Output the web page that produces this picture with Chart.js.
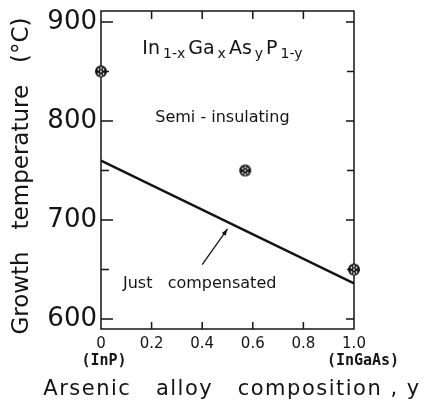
<!DOCTYPE html>
<html>
<head>
<meta charset="utf-8">
<script src="https://cdn.jsdelivr.net/npm/chart.js@4.4.1/dist/chart.umd.min.js"></script>
<style>
  html, body { margin: 0; padding: 0; background: #fff; }
  #wrap { width: 425px; height: 409px; }
</style>
</head>
<body>
<div id="wrap"><canvas id="chart"></canvas></div>
<script>
// Axis ticks
const xTicks = [0, 0.2, 0.4, 0.6, 0.8, 1.0];
const xTickLabels = ['0', '0.2', '0.4', '0.6', '0.8', '1.0'];
const xSubLabels = ['(InP)', '', '', '', '', '(InGaAs)'];
const yTicks = [600, 700, 800, 900];
const yTickLabels = ['600', '700', '800', '900'];
const yMinorTicks = [650, 750, 850];

// "Just compensated" boundary line
const boundaryX = [0, 1.0];
const boundaryY = [760, 636];

// Semi-insulating samples
const sampleX = [0, 0.57, 1.0];
const sampleY = [850, 750, 650];

// Arrow pointing at the boundary
const arrowFrom = [0.40, 655];
const arrowTo = [0.50, 691];

// Text placed in data coordinates
const notes = [
    { text: 'Semi - insulating', x: 0.48, y: 803 },
    { text: 'Just   compensated', x: 0.39, y: 636 }
];
const formulaParts = [['In', 0], ['1-x', 1], ['Ga', 0], ['x', 1], ['As', 0], ['y', 1], ['P', 0], ['1-y', 1]];
const formulaAt = { x: 0.48, y: 874 };

const INK = '#141414';
const FONT = "'DejaVu Sans', sans-serif";

// Marker: dark disc with light speckles
function makeMarker() {
    const c = document.createElement('canvas');
    c.width = 14;
    c.height = 14;
    const g = c.getContext('2d');
    g.fillStyle = INK;
    g.beginPath();
    g.arc(7, 7, 6, 0, Math.PI * 2);
    g.fill();
    g.fillStyle = '#fff';
    [[7, 7], [4.5, 5], [9.5, 5], [4.5, 9.5], [9.5, 9.5], [7, 3.5], [7, 11]].forEach(([a, b]) => {
        g.beginPath();
        g.arc(a, b, 0.9, 0, Math.PI * 2);
        g.fill();
    });
    return c;
}

// Axis titles get letter spacing and a wider span than the plot area
const titleLook = {
    x: { spacing: '1.5px', from: 40, to: 424 },
    y: { spacing: '0px', from: 12, to: 340 }
};

function styleTitle(scale, look) {
    if (scale._styled) return;
    const draw = scale.drawTitle;
    const horizontal = scale.isHorizontal();
    scale.drawTitle = function () {
        const ctx = this.ctx;
        const keep = [this.left, this.right, this.top, this.bottom];
        if (horizontal) {
            this.left = look.from;
            this.right = look.to;
        } else {
            this.top = look.from;
            this.bottom = look.to;
        }
        ctx.save();
        ctx.letterSpacing = look.spacing;
        draw.call(this);
        ctx.restore();
        [this.left, this.right, this.top, this.bottom] = keep;
    };
    scale._styled = true;
}

// Frame with inward ticks on all four sides
const frameTicks = {
    id: 'frameTicks',
    beforeDraw(chart) {
        Object.keys(titleLook).forEach(id => styleTitle(chart.scales[id], titleLook[id]));
    },
    beforeDatasetsDraw(chart) {
        const { ctx, chartArea: a, scales: { x, y } } = chart;
        ctx.save();
        ctx.strokeStyle = INK;
        ctx.lineWidth = 1.5;
        ctx.strokeRect(a.left, a.top, a.right - a.left, a.bottom - a.top);
        ctx.beginPath();
        xTicks.slice(1, -1).forEach(v => {
            const px = x.getPixelForValue(v);
            ctx.moveTo(px, a.bottom);
            ctx.lineTo(px, a.bottom - 7);
            ctx.moveTo(px, a.top);
            ctx.lineTo(px, a.top + 8);
        });
        yTicks.forEach(v => {
            const py = y.getPixelForValue(v);
            ctx.moveTo(a.left, py);
            ctx.lineTo(a.left + 12, py);
            ctx.moveTo(a.right, py);
            ctx.lineTo(a.right - 8, py);
        });
        yMinorTicks.forEach(v => {
            const py = y.getPixelForValue(v);
            ctx.moveTo(a.left, py);
            ctx.lineTo(a.left + 8, py);
            ctx.moveTo(a.right, py);
            ctx.lineTo(a.right - 7, py);
        });
        ctx.stroke();
        ctx.restore();
    },
    afterDraw(chart) {
        const { ctx, scales: { x, y } } = chart;
        ctx.save();
        ctx.fillStyle = INK;
        ctx.strokeStyle = INK;

        // arrow
        const x0 = x.getPixelForValue(arrowFrom[0]), y0 = y.getPixelForValue(arrowFrom[1]);
        const x1 = x.getPixelForValue(arrowTo[0]), y1 = y.getPixelForValue(arrowTo[1]);
        const ang = Math.atan2(y1 - y0, x1 - x0);
        ctx.lineWidth = 1.3;
        ctx.beginPath();
        ctx.moveTo(x0, y0);
        ctx.lineTo(x1, y1);
        ctx.stroke();
        ctx.beginPath();
        ctx.moveTo(x1, y1);
        ctx.lineTo(x1 - 7 * Math.cos(ang - 0.35), y1 - 7 * Math.sin(ang - 0.35));
        ctx.lineTo(x1 - 7 * Math.cos(ang + 0.35), y1 - 7 * Math.sin(ang + 0.35));
        ctx.closePath();
        ctx.fill();

        // region labels
        ctx.font = '16px ' + FONT;
        ctx.textAlign = 'center';
        ctx.textBaseline = 'middle';
        notes.forEach(n => ctx.fillText(n.text, x.getPixelForValue(n.x), y.getPixelForValue(n.y)));

        // alloy formula with subscripts
        const mainFont = '19px ' + FONT, subFont = '14px ' + FONT, gap = 3;
        let total = 0;
        formulaParts.forEach(([t, sub]) => {
            ctx.font = sub ? subFont : mainFont;
            total += ctx.measureText(t).width + gap;
        });
        total -= gap;
        let fx = x.getPixelForValue(formulaAt.x) - total / 2;
        const fy = y.getPixelForValue(formulaAt.y) + 6;
        ctx.textAlign = 'left';
        ctx.textBaseline = 'alphabetic';
        formulaParts.forEach(([t, sub]) => {
            ctx.font = sub ? subFont : mainFont;
            ctx.fillText(t, fx, sub ? fy + 4 : fy);
            fx += ctx.measureText(t).width + gap;
        });

        // end-member names under the x tick labels
        ctx.font = 'bold 15px "DejaVu Sans Mono", monospace';
        ctx.textAlign = 'center';
        ctx.textBaseline = 'middle';
        xTicks.forEach((v, i) => {
            if (!xSubLabels[i]) return;
            ctx.fillText(xSubLabels[i], x.getPixelForValue(v) + (i ? 9 : 3), 361);
        });
        ctx.restore();
    }
};

const ctx = document.getElementById('chart').getContext('2d');
new Chart(ctx, {
    data: {
        datasets: [{
            type: 'line',
            label: 'Just compensated',
            data: boundaryX.map((v, i) => ({ x: v, y: boundaryY[i] })),
            borderColor: INK,
            borderWidth: 2.4,
            pointRadius: 0,
            tension: 0
        }, {
            type: 'scatter',
            label: 'Semi-insulating',
            data: sampleX.map((v, i) => ({ x: v, y: sampleY[i] })),
            pointStyle: makeMarker(),
            clip: false
        }]
    },
    options: {
        responsive: true,
        maintainAspectRatio: false,
        animation: false,
        layout: { padding: { top: 11, right: 71, bottom: 0, left: 0 } },
        plugins: {
            legend: { display: false },
            tooltip: { enabled: false }
        },
        scales: {
            x: {
                type: 'linear',
                min: 0,
                max: 1,
                grid: { display: false, drawTicks: false },
                border: { display: false },
                afterBuildTicks: s => { s.ticks = xTicks.map(v => ({ value: v })); },
                afterFit: s => { s.height = 80; s.paddingLeft = 0; s.paddingRight = 0; },
                ticks: {
                    color: INK,
                    padding: 6,
                    maxRotation: 0,
                    font: { family: FONT, size: 15 },
                    callback: (v, i) => xTickLabels[i]
                },
                title: {
                    display: true,
                    text: 'Arsenic   alloy   composition , y',
                    color: INK,
                    font: { family: FONT, size: 21 },
                    padding: { top: 0, bottom: 7 }
                }
            },
            y: {
                type: 'linear',
                min: 590,
                max: 911,
                grid: { display: false, drawTicks: false },
                border: { display: false },
                afterBuildTicks: s => { s.ticks = yTicks.map(v => ({ value: v })); },
                afterFit: s => { s.width = 101; s.paddingTop = 0; s.paddingBottom = 0; },
                ticks: {
                    color: INK,
                    padding: 4,
                    font: { family: FONT, size: 26 },
                    callback: (v, i) => yTickLabels[i]
                },
                title: {
                    display: true,
                    text: 'Growth   temperature   (°C)',
                    color: INK,
                    font: { family: FONT, size: 23 },
                    padding: { top: 8, bottom: 0 }
                }
            }
        }
    },
    plugins: [frameTicks]
});
</script>
</body>
</html>
